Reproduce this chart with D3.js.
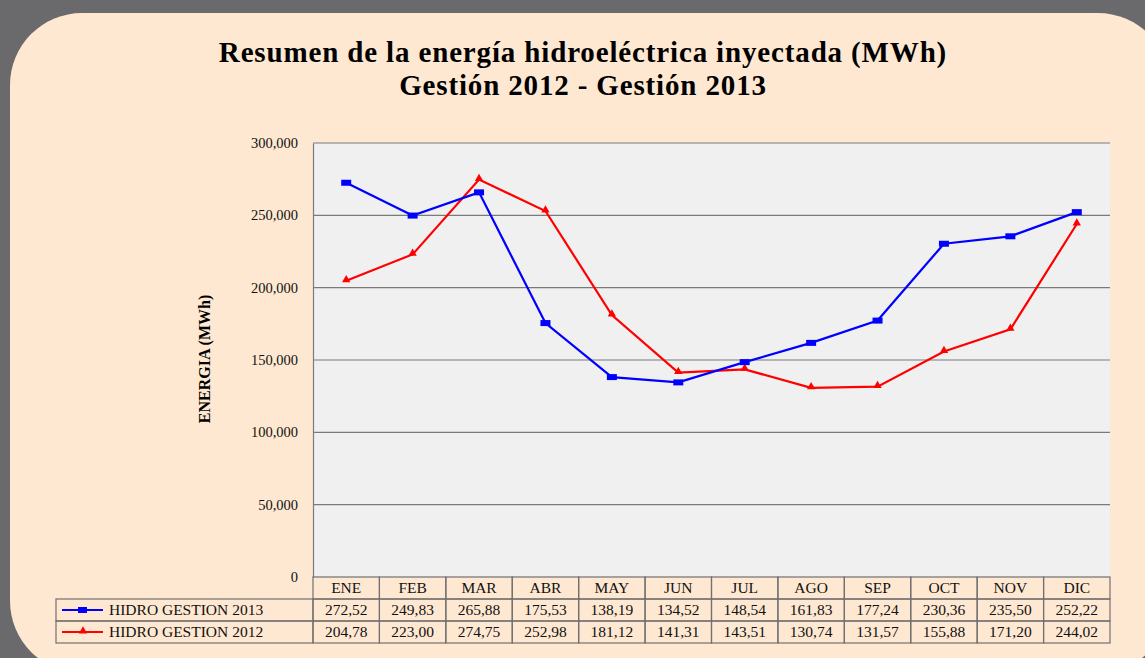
<!DOCTYPE html>
<html lang="es">
  <head>
    <meta charset="UTF-8" />
    <title>Resumen de la energía hidroeléctrica inyectada</title>
    <script src="https://d3js.org/d3.v7.min.js"></script>
    <style>
      body { margin: 0; background: #6a6a6c; }
      svg { display: block; font-family: "Liberation Serif", "DejaVu Serif", serif; }
    </style>
  </head>
  <body>
    <svg id="chart" width="1145" height="658"></svg>
    <script>
      // Data (MWh)
      const months = ["ENE", "FEB", "MAR", "ABR", "MAY", "JUN", "JUL", "AGO", "SEP", "OCT", "NOV", "DIC"];
      const hidro2013 = [272520, 249830, 265880, 175530, 138190, 134520, 148540, 161830, 177240, 230360, 235500, 252220];
      const hidro2012 = [204780, 223000, 274750, 252980, 181120, 141310, 143510, 130740, 131570, 155880, 171200, 244020];
      const labels2013 = ["272,52", "249,83", "265,88", "175,53", "138,19", "134,52", "148,54", "161,83", "177,24", "230,36", "235,50", "252,22"];
      const labels2012 = ["204,78", "223,00", "274,75", "252,98", "181,12", "141,31", "143,51", "130,74", "131,57", "155,88", "171,20", "244,02"];
      const yTicks = [0, 50000, 100000, 150000, 200000, 250000, 300000];

      const svg = d3.select("#chart");

      // Peach panel
      svg.append("rect")
        .attr("x", 10).attr("y", 13)
        .attr("width", 1160).attr("height", 660)
        .attr("rx", 72).attr("ry", 72)
        .attr("fill", "#fee8d2");

      // Title
      const title = svg.append("text")
        .attr("text-anchor", "middle")
        .attr("font-weight", "bold")
        .attr("font-size", 29)
        .attr("letter-spacing", 0.85)
        .attr("fill", "#000");
      title.append("tspan").attr("x", 583).attr("y", 62)
        .text("Resumen de la energía hidroeléctrica inyectada (MWh)");
      title.append("tspan").attr("x", 583).attr("y", 95)
        .text("Gestión 2012 - Gestión 2013");

      const plot = { left: 313, right: 1110, top: 143, bottom: 577 };

      const x = d3.scaleBand()
        .domain(months)
        .range([plot.left, plot.right]);

      const y = d3.scaleLinear()
        .domain([0, 300000])
        .range([plot.bottom, plot.top]);

      // Plot background
      svg.append("rect")
        .attr("x", plot.left).attr("y", plot.top)
        .attr("width", plot.right - plot.left)
        .attr("height", plot.bottom - plot.top)
        .attr("fill", "#f0f0f0");

      // Gridlines
      svg.append("g")
        .selectAll("line")
        .data(yTicks.filter((d) => d > 0))
        .join("line")
        .attr("x1", plot.left).attr("x2", plot.right)
        .attr("y1", (d) => y(d)).attr("y2", (d) => y(d))
        .attr("stroke", "#7a7a7a")
        .attr("stroke-width", 1.2);

      // Y axis
      const yAxis = svg.append("g")
        .attr("transform", `translate(${plot.left},0)`)
        .call(d3.axisLeft(y).tickValues(yTicks).tickSize(0).tickPadding(15)
          .tickFormat(d3.format(",")));
      yAxis.select(".domain").attr("stroke", "#7a7a7a").attr("stroke-width", 1.2);
      yAxis.selectAll("text")
        .attr("font-family", "Liberation Serif, DejaVu Serif, serif")
        .attr("font-size", 14.5)
        .attr("fill", "#111");

      svg.append("text")
        .attr("transform", `translate(210,359) rotate(-90)`)
        .attr("text-anchor", "middle")
        .attr("font-weight", "bold")
        .attr("font-size", 16)
        .text("ENERGIA (MWh)");

      // Lines
      const cx = (i) => x(months[i]) + x.bandwidth() / 2;
      const line = d3.line()
        .x((d, i) => cx(i))
        .y((d) => y(d));

      svg.append("path")
        .datum(hidro2012)
        .attr("d", line)
        .attr("fill", "none")
        .attr("stroke", "#ff0000")
        .attr("stroke-width", 2.2);

      svg.append("path")
        .datum(hidro2013)
        .attr("d", line)
        .attr("fill", "none")
        .attr("stroke", "#0000ff")
        .attr("stroke-width", 2.2);

      const tri = d3.symbol().type(d3.symbolTriangle).size(30);
      svg.append("g")
        .selectAll("path")
        .data(hidro2012)
        .join("path")
        .attr("d", tri)
        .attr("transform", (d, i) => `translate(${cx(i)},${y(d) - 1})`)
        .attr("fill", "#ff0000");

      svg.append("g")
        .selectAll("rect")
        .data(hidro2013)
        .join("rect")
        .attr("x", (d, i) => cx(i) - 5)
        .attr("y", (d) => y(d) - 3)
        .attr("width", 10)
        .attr("height", 6)
        .attr("fill", "#0000ff");

      // Data table
      const rowH = 22;
      const tableLeft = 56;
      const gridColor = "#707070";
      const rows = [
        { name: "HIDRO GESTION 2013", labels: labels2013, color: "#0000ff", marker: "square" },
        { name: "HIDRO GESTION 2012", labels: labels2012, color: "#ff0000", marker: "triangle" },
      ];

      const table = svg.append("g")
        .attr("font-size", 15.5)
        .attr("fill", "#111");

      // header cells
      table.selectAll(".hdr")
        .data(months)
        .join("rect")
        .attr("class", "hdr")
        .attr("x", (d) => x(d))
        .attr("y", plot.bottom)
        .attr("width", x.bandwidth())
        .attr("height", rowH)
        .attr("fill", "none")
        .attr("stroke", gridColor)
        .attr("stroke-width", 1.2);

      table.selectAll(".hdrText")
        .data(months)
        .join("text")
        .attr("class", "hdrText")
        .attr("x", (d) => x(d) + x.bandwidth() / 2)
        .attr("y", plot.bottom + 16)
        .attr("text-anchor", "middle")
        .text((d) => d);

      rows.forEach((r, ri) => {
        const top = plot.bottom + rowH * (ri + 1);
        table.append("rect")
          .attr("x", tableLeft).attr("y", top)
          .attr("width", plot.left - tableLeft).attr("height", rowH)
          .attr("fill", "none")
          .attr("stroke", gridColor).attr("stroke-width", 1.2);

        table.selectAll(null)
          .data(months)
          .join("rect")
          .attr("x", (d) => x(d)).attr("y", top)
          .attr("width", x.bandwidth()).attr("height", rowH)
          .attr("fill", "none")
          .attr("stroke", gridColor).attr("stroke-width", 1.2);

        table.selectAll(null)
          .data(r.labels)
          .join("text")
          .attr("x", (d, i) => cx(i))
          .attr("y", top + 16)
          .attr("text-anchor", "middle")
          .text((d) => d);

        // legend key
        const ky = top + rowH / 2;
        table.append("line")
          .attr("x1", 62).attr("x2", 103)
          .attr("y1", ky).attr("y2", ky)
          .attr("stroke", r.color).attr("stroke-width", 1.8);
        if (r.marker === "square") {
          table.append("rect")
            .attr("x", 78).attr("y", ky - 3)
            .attr("width", 9).attr("height", 6)
            .attr("fill", r.color);
        } else {
          table.append("path")
            .attr("d", tri)
            .attr("transform", `translate(83,${ky - 1})`)
            .attr("fill", r.color);
        }
        table.append("text")
          .attr("x", 109).attr("y", top + 16)
          .text(r.name);
      });
    </script>
  </body>
</html>
